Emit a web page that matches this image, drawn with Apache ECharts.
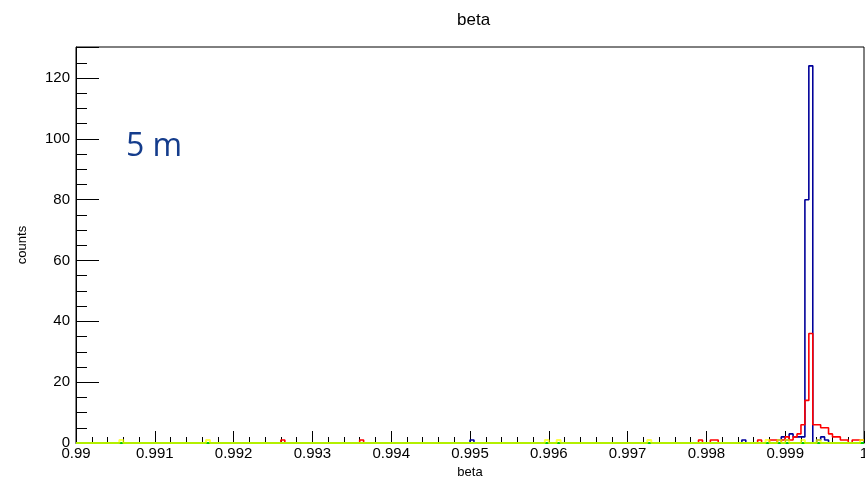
<!DOCTYPE html>
<html>
<head>
<meta charset="utf-8">
<script src="https://cdn.jsdelivr.net/npm/echarts@6/dist/echarts.min.js"></script>
<style>
  html, body { margin: 0; padding: 0; background: #fff; }
  #chart { width: 865px; height: 484px; }
</style>
</head>
<body>
<div id="chart"></div>
<script>
// Histogram binning: 200 bins of width 0.00005 between 0.99 and 1.0
const xMin = 0.99;
const xMax = 1.0;
const nBins = 200;

// Axis ticks
const xTickStep = 0.001;
const yTickStep = 20;
const yMax = 130.2;

// Non-empty bins for each histogram: bin index and counts
const blueBins   = [100, 169, 178, 179, 180, 181, 182, 183, 184, 185, 186, 188, 189, 190];
const blueCounts = [1,   1,   1,   2,   1,   3,   2,   2,   2,   80,  124, 1,   2,   1];

const redBins   = [52, 72, 158, 161, 162, 173, 176, 177, 179, 180, 181, 182, 183, 184, 185, 186, 187, 188, 189, 190, 191, 192, 193, 194, 195, 197, 198, 199];
const redCounts = [1,  1,  1,   1,   1,   1,   1,   1,   1,   2,   1,   2,   3,   6,   14,  36,  6,   6,   5,   5,   3,   2,   2,   1,   1,   1,   1,   1];

const greenBins   = [];
const greenCounts = [];

const yellowBins   = [11, 33, 119, 122, 145, 175, 178, 180, 184, 188, 199];
const yellowCounts = [1,  1,  1,   1,   1,   1,   1,   1,   1,   1,   1];

const binWidth = (xMax - xMin) / nBins;

// Build a step outline: one point per bin low edge, plus the final upper edge
function outline(bins, counts) {
  const h = new Array(nBins).fill(0);
  bins.forEach((b, i) => { h[b] = counts[i]; });
  const pts = h.map((c, i) => [xMin + i * binWidth, c]);
  pts.push([xMax, h[nBins - 1]]);
  return pts;
}

function histSeries(name, bins, counts, color, width, opacity) {
  return {
    name: name,
    type: 'line',
    step: 'end',
    data: outline(bins, counts),
    symbol: 'none',
    clip: true,
    lineStyle: { color: color, width: width, opacity: opacity },
    animation: false
  };
}

function fmtX(v) {
  return String(parseFloat(v.toFixed(4)));
}

const chart = echarts.init(document.getElementById('chart'), null, { renderer: 'canvas' });
chart.setOption({
  backgroundColor: '#ffffff',
  animation: false,
  title: {
    text: 'beta',
    left: 452,
    top: 7,
    textStyle: { fontFamily: 'Liberation Sans', fontSize: 17, fontWeight: 'normal', color: '#000' }
  },
  grid: {
    left: 76, right: 1, top: 47, bottom: 41,
    outerBoundsMode: 'none',
    containLabel: false,
    show: true, borderColor: '#000', borderWidth: 1, backgroundColor: 'transparent'
  },
  xAxis: {
    type: 'value',
    min: xMin, max: xMax, interval: xTickStep,
    name: 'beta',
    nameLocation: 'middle',
    nameGap: 21,
    nameTextStyle: { fontFamily: 'Liberation Sans', fontSize: 13, color: '#000' },
    axisLine: { show: true, onZero: false, lineStyle: { color: '#000', width: 1 } },
    axisTick: { show: true, inside: true, length: 12, lineStyle: { color: '#000', width: 1 } },
    minorTick: { show: true, splitNumber: 5, length: 6, lineStyle: { color: '#000', width: 1 } },
    axisLabel: { formatter: fmtX, margin: 3, fontFamily: 'Liberation Sans', fontSize: 15, color: '#000', showMinLabel: true, showMaxLabel: true, hideOverlap: false },
    splitLine: { show: false }
  },
  yAxis: {
    type: 'value',
    min: 0, max: yMax, interval: yTickStep,
    name: 'counts',
    nameLocation: 'middle',
    nameGap: 47,
    nameRotate: 90,
    nameTextStyle: { fontFamily: 'Liberation Sans', fontSize: 13, color: '#000' },
    axisLine: { show: true, lineStyle: { color: '#000', width: 1 } },
    axisTick: { show: true, inside: true, length: 23, lineStyle: { color: '#000', width: 1 } },
    minorTick: { show: true, splitNumber: 4, length: 11, lineStyle: { color: '#000', width: 1 } },
    axisLabel: {
      margin: 6, fontFamily: 'Liberation Sans', fontSize: 15, color: '#000',
      formatter: v => (Math.abs(v % yTickStep) < 1e-9 ? String(v) : '')
    },
    splitLine: { show: false }
  },
  series: [
    histSeries('blue', blueBins, blueCounts, '#000099', 1.6, 1),
    histSeries('red', redBins, redCounts, '#ff0000', 1.6, 1),
    histSeries('green', greenBins, greenCounts, '#00cc00', 2, 1),
    histSeries('yellow', yellowBins, yellowCounts, '#ffff00', 2, 0.7)
  ],
  graphic: [
    {
      type: 'text',
      left: 126, top: 131,
      style: { text: '5 m', fontFamily: 'Open Sans', fontSize: 32, fill: '#143c8c' }
    }
  ]
});
</script>
</body>
</html>
